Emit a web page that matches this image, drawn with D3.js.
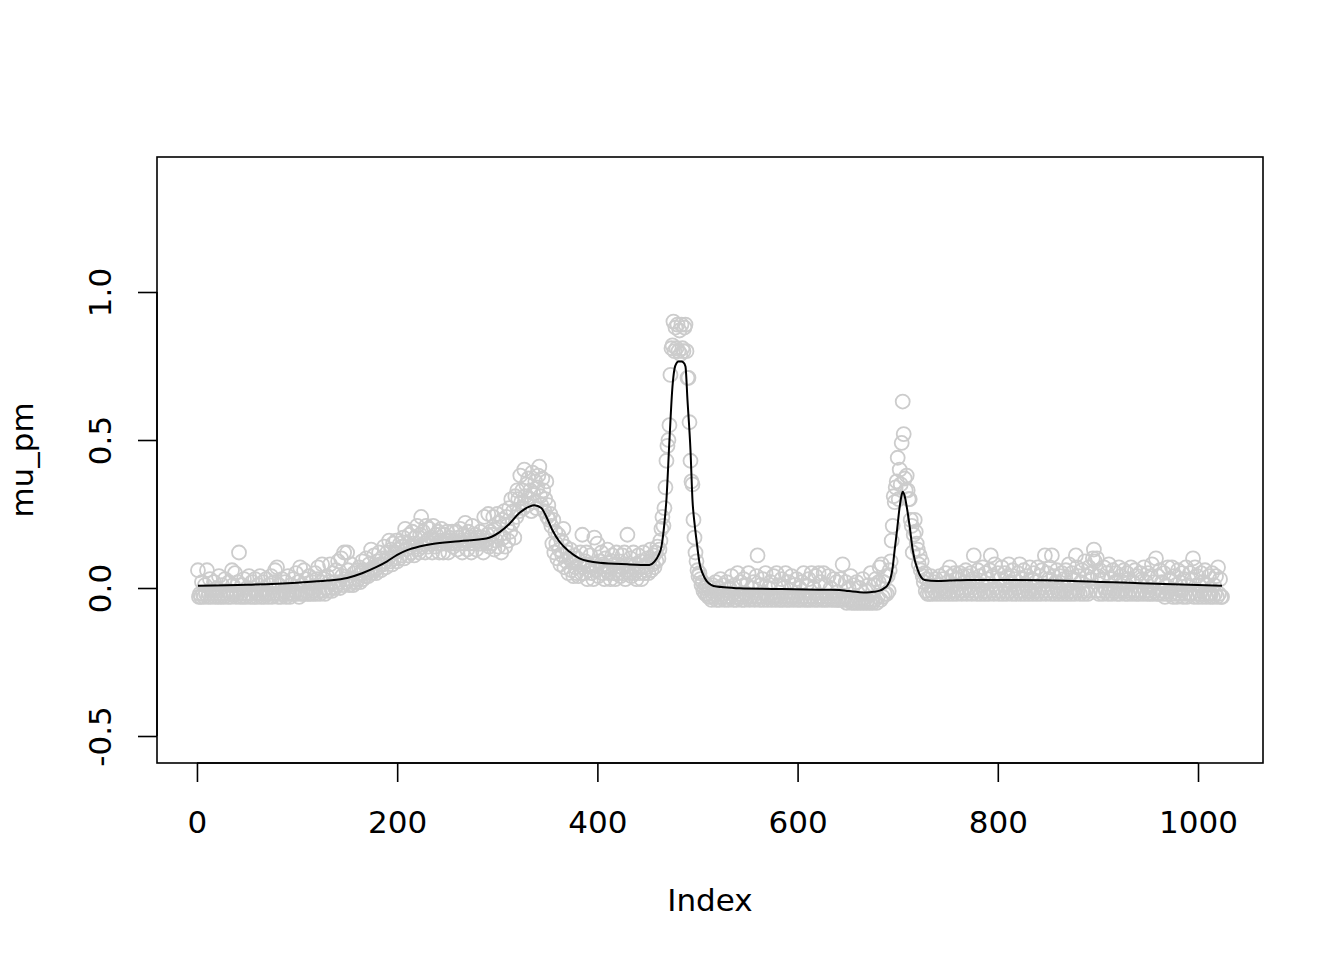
<!DOCTYPE html>
<html>
<head>
<meta charset="utf-8">
<script src="https://cdn.jsdelivr.net/npm/d3@7"></script>
<style>
  html, body { margin: 0; padding: 0; background: #ffffff; }
  svg { display: block; }
  text { font-family: "DejaVu Sans", sans-serif; fill: #000; }
</style>
</head>
<body>
<div id="chart"></div>
<script>
// ---- data ----
// observed points mu_pm, index 1..1024
const muPm = [
  .06,-.03,-.02,-.03,.02,-.02,-.03,.01,-.02,.06,-.03,-.02,.03,-.03,-.01,-.02,.02,-.03,-.02,.00,-.03,.04,-.02,-.03,.01,-.02,-.03,.03,-.02,-.01,-.03,.02,
  -.02,-.03,.06,.01,-.02,.05,-.03,-.02,.02,.12,-.03,-.02,.01,-.03,.03,-.02,-.03,.00,-.02,.04,-.03,-.02,.02,-.03,-.01,.03,-.02,-.03,.01,-.02,.04,-.03,
  -.02,.02,-.03,-.02,.03,-.02,-.03,.01,-.02,.04,-.03,-.02,.02,.06,-.02,.07,-.03,.01,-.02,-.03,.03,-.02,-.01,.02,-.03,-.02,.04,-.02,-.03,.01,-.02,.03,
  -.02,-.01,.05,-.02,.02,-.03,.07,-.02,.01,-.02,.06,-.02,.03,-.01,-.02,.04,-.02,.00,.02,-.02,-.01,.05,-.02,.03,.07,-.01,-.02,.02,.08,-.01,.03,-.02,
  .00,.04,-.01,.02,.08,.00,-.01,.05,.02,.00,.06,.01,.09,.02,.00,.10,.04,.01,.12,.03,.02,.12,.06,.01,.03,.08,.02,.01,.05,.03,.02,.06,
  .03,.07,.02,.05,.09,.03,.06,.04,.10,.05,.04,.08,.06,.13,.05,.07,.11,.06,.05,.09,.07,.12,.08,.06,.10,.08,.14,.09,.07,.12,.10,.16,
  .09,.13,.08,.15,.10,.12,.16,.09,.13,.10,.15,.11,.14,.17,.10,.20,.13,.15,.11,.18,.14,.12,.19,.15,.11,.17,.14,.21,.13,.12,.18,.24,
  .14,.19,.15,.12,.21,.16,.14,.20,.15,.17,.12,.21,.16,.14,.18,.15,.19,.12,.16,.20,.15,.12,.18,.16,.15,.19,.12,.17,.16,.15,.19,.14,
  .16,.15,.19,.13,.17,.15,.20,.16,.12,.18,.15,.22,.16,.13,.19,.15,.17,.12,.21,.16,.15,.18,.13,.17,.16,.15,.19,.15,.17,.12,.24,.16,
  .15,.18,.25,.14,.19,.15,.18,.24,.13,.20,.16,.25,.14,.22,.18,.12,.23,.17,.26,.14,.24,.21,.16,.27,.19,.30,.22,.26,.17,.31,.24,.33,
  .30,.26,.38,.29,.33,.27,.40,.31,.35,.28,.37,.30,.33,.26,.39,.32,.29,.36,.27,.34,.38,.41,.31,.28,.37,.33,.26,.30,.36,.24,.28,.23,
  .25,.21,.15,.23,.12,.19,.15,.10,.18,.13,.08,.16,.11,.20,.07,.14,.09,.12,.05,.10,.13,.06,.09,.04,.11,.07,.05,.10,.04,.08,.12,.05,
  .18,.07,.05,.09,.12,.03,.08,.06,.11,.05,.07,.03,.17,.08,.06,.15,.04,.09,.07,.12,.05,.08,.03,.10,.06,.13,.05,.07,.03,.09,.11,.05,
  .08,.03,.12,.06,.05,.09,.04,.07,.11,.05,.12,.03,.08,.18,.06,.05,.10,.04,.07,.12,.05,.08,.03,.06,.11,.05,.09,.03,.07,.12,.05,.06,
  .07,.10,.05,.09,.13,.06,.08,.11,.07,.12,.09,.14,.10,.13,.16,.20,.24,.21,.27,.34,.43,.48,.50,.55,.72,.81,.82,.90,.80,.88,.81,.89,
  .80,.87,.79,.89,.81,.80,.88,.89,.80,.71,.71,.56,.43,.36,.35,.23,.17,.12,.09,.06,.04,.05,.03,.01,.02,-.01,.00,-.02,.01,-.02,-.03,.00,
  -.03,-.04,.01,-.03,-.02,.02,-.04,-.03,.00,-.04,.03,-.03,-.02,.01,-.04,-.03,.02,-.03,-.04,.00,-.03,.04,-.02,-.04,.01,-.03,-.04,.05,-.03,-.02,.02,-.04,
  -.03,.03,-.04,-.02,.01,-.03,.05,-.04,-.03,.00,-.03,.02,-.04,-.03,.04,.11,-.03,-.04,.01,-.03,.03,-.04,-.02,.05,-.03,-.04,.00,-.03,.02,-.04,-.03,.04,
  -.03,-.04,.05,-.03,.01,-.04,-.03,.03,-.04,.00,-.03,.05,-.04,-.03,.02,-.04,-.03,.04,-.03,-.04,.01,-.03,.03,-.04,-.03,.00,-.04,.02,-.03,.05,-.04,-.03,
  .01,-.04,.03,-.03,-.04,.05,-.03,.00,-.04,.04,-.03,-.04,.05,-.03,.02,-.04,-.03,.05,-.04,.01,-.03,-.04,.04,-.03,.00,-.04,-.03,.03,-.04,-.03,.02,-.04,
  -.04,-.03,.03,-.04,.08,-.04,-.03,.02,-.05,-.04,.00,-.04,.04,-.05,-.04,.01,-.05,-.04,.02,-.05,-.04,.00,-.05,-.04,.03,-.05,-.04,-.01,-.05,-.04,.01,-.05,
  .05,-.04,-.05,.01,-.04,.03,-.05,-.03,.02,.07,-.04,.08,-.03,.02,-.02,.04,-.02,.04,-.01,.06,.09,.16,.21,.31,.29,.34,.36,.44,.30,.40,.35,.49,
  .63,.52,.37,.33,.38,.33,.30,.30,.23,.21,.12,.18,.23,.19,.15,.13,.08,.11,.06,.09,.04,.02,.05,-.01,.03,-.02,.01,-.02,.04,-.01,-.02,.02,
  -.01,.03,-.02,.01,-.01,.04,-.02,.00,.03,-.01,-.02,.05,-.01,.02,-.02,.07,-.01,.04,-.02,.01,.05,-.01,-.02,.03,.00,.05,-.01,-.02,.04,-.01,.02,.06,
  -.02,.04,.00,-.01,.05,-.02,.03,.11,-.01,.02,-.02,.06,-.01,.04,-.02,.01,.07,-.01,-.02,.05,-.01,.03,-.02,.06,.11,-.01,.04,-.02,.08,.00,-.01,.05,
  -.02,.03,-.01,.07,-.02,.01,.05,-.01,-.02,.04,.08,-.01,.02,-.02,.06,-.01,.03,-.02,.00,.05,-.01,.08,-.02,.03,-.01,.06,-.02,.01,.04,-.01,-.02,.07,
  -.01,.03,-.02,.05,-.01,.02,-.02,.07,-.01,.04,-.02,.06,.00,-.01,.11,-.02,.05,-.01,.03,.07,-.02,.11,-.01,.04,-.02,.02,.06,-.01,-.02,.04,-.01,.05,
  -.02,.03,-.01,.06,-.02,.01,.08,-.01,-.02,.05,-.01,.03,-.02,.11,.07,-.01,.04,-.02,.02,.06,-.01,-.02,.09,-.01,.04,-.02,.07,-.01,.03,.05,.10,.13,
  .09,-.01,.10,.04,-.02,.06,-.01,.03,-.02,.07,.00,-.01,.05,-.02,.08,-.01,.03,-.02,.06,-.01,.02,.05,-.02,-.01,.07,-.02,.04,-.01,.02,.06,-.02,-.01,
  .05,-.02,.03,-.01,.07,-.02,.02,-.01,.06,-.02,.04,-.01,-.02,.05,-.01,.03,-.02,.07,-.01,.02,-.02,.05,-.01,-.02,.04,.08,-.02,.02,-.01,.10,-.02,.04,
  -.02,.06,-.01,.02,-.02,.05,-.03,.01,-.02,.07,-.01,.03,-.02,.07,-.03,.04,-.02,.01,-.03,.06,-.02,.02,-.01,.05,-.03,.03,-.02,.07,-.03,.01,-.02,.05,
  -.02,.03,.10,-.03,.07,-.02,.04,-.03,.01,-.02,.05,-.03,.02,-.02,.06,-.03,.01,-.02,.04,-.03,-.02,.05,-.03,.01,-.02,.04,-.03,.07,-.02,.03,-.03,-.03
];

// smooth fitted curve (black line), sampled at these indices
const smoothIdx = [1,50,100,130,150,165,180,190,200,210,222,235,262,289,302,312,322,332,337,344,349,355,362,372,382,402,430,452,457,461,464,467,469,472,475,477,479,481,484,486,488,490,493,495,497,499,502,505,509,514,519,530,542,575,609,630,642,648,655,662,669,676,682,686,690,693,695,697,699,702,704,705,707,709,712,715,720,727,739,752,770,800,875,942,1024];
const smoothVal = [.008,.011,.018,.025,.034,.05,.072,.09,.112,.128,.14,.149,.158,.167,.188,.216,.253,.275,.28,.27,.241,.196,.157,.123,.10,.085,.08,.078,.089,.11,.14,.22,.30,.50,.68,.74,.759,.765,.765,.762,.748,.635,.466,.297,.22,.162,.084,.05,.024,.01,.005,.002,-.001,-.003,-.005,-.006,-.007,-.009,-.012,-.014,-.015,-.013,-.009,-.002,.01,.035,.07,.13,.185,.275,.315,.325,.31,.275,.207,.128,.061,.027,.024,.025,.027,.027,.024,.016,.008];

const xTicks = [0, 200, 400, 600, 800, 1000];
const xTickLabels = ["0", "200", "400", "600", "800", "1000"];
const yTicks = [-0.5, 0, 0.5, 1.0];
const yTickLabels = ["-0.5", "0.0", "0.5", "1.0"];
const xLabel = "Index";
const yLabel = "mu_pm";

// ---- layout ----
const W = 1344, H = 960;
const plot = { left: 157, right: 1263, top: 157, bottom: 763 };
const fontSize = 31;
const tickLen = 19;

const n = muPm.length;
const ext = 0.04 * (n - 1);
const x = d3.scaleLinear().domain([1 - ext, n + ext]).range([plot.left, plot.right]);
const y = d3.scaleLinear().domain([-0.5912, 1.4561]).range([plot.bottom, plot.top]);

const svg = d3.select("#chart").append("svg")
  .attr("width", W).attr("height", H)
  .attr("viewBox", `0 0 ${W} ${H}`);
svg.append("rect").attr("width", W).attr("height", H).attr("fill", "#ffffff");

// points
svg.append("g")
  .selectAll("circle")
  .data(muPm)
  .join("circle")
  .attr("cx", (d, i) => x(i + 1))
  .attr("cy", d => y(d))
  .attr("r", 7)
  .attr("fill", "none")
  .attr("stroke", "#cccccc")
  .attr("stroke-width", 1.8);

// smooth line
const lineGen = d3.line()
  .x(d => x(d[0]))
  .y(d => y(d[1]))
  .curve(d3.curveMonotoneX);
svg.append("path")
  .datum(smoothIdx.map((v, i) => [v, smoothVal[i]]))
  .attr("d", lineGen)
  .attr("fill", "none")
  .attr("stroke", "#000000")
  .attr("stroke-width", 2)
  .attr("stroke-linejoin", "round");

// box
svg.append("rect")
  .attr("x", plot.left).attr("y", plot.top)
  .attr("width", plot.right - plot.left).attr("height", plot.bottom - plot.top)
  .attr("fill", "none").attr("stroke", "#000").attr("stroke-width", 1.6);

// x axis
const gx = svg.append("g").attr("transform", `translate(0,${plot.bottom})`)
  .call(d3.axisBottom(x).tickValues(xTicks).tickSize(tickLen).tickSizeOuter(0)
    .tickFormat((d, i) => xTickLabels[i]).tickPadding(0));
gx.select(".domain").remove();
gx.selectAll(".tick line").attr("stroke", "#000").attr("stroke-width", 1.6);
gx.selectAll(".tick text")
  .attr("y", 70).attr("dy", null)
  .style("font-size", fontSize + "px").style("font-family", "DejaVu Sans, sans-serif");
gx.append("line")
  .attr("x1", x(xTicks[0])).attr("x2", x(xTicks[xTicks.length - 1]))
  .attr("y1", 0).attr("y2", 0)
  .attr("stroke", "#000").attr("stroke-width", 1.6);

// y axis
const gy = svg.append("g").attr("transform", `translate(${plot.left},0)`)
  .call(d3.axisLeft(y).tickValues(yTicks).tickSize(tickLen).tickSizeOuter(0)
    .tickFormat((d, i) => yTickLabels[i]));
gy.select(".domain").remove();
gy.selectAll(".tick line").attr("stroke", "#000").attr("stroke-width", 1.6);
gy.selectAll(".tick text")
  .attr("x", null).attr("dy", null)
  .attr("text-anchor", "middle")
  .attr("transform", "translate(-46,0) rotate(-90)")
  .style("font-size", fontSize + "px").style("font-family", "DejaVu Sans, sans-serif");
gy.append("line")
  .attr("x1", 0).attr("x2", 0)
  .attr("y1", y(yTicks[0])).attr("y2", y(yTicks[yTicks.length - 1]))
  .attr("stroke", "#000").attr("stroke-width", 1.6);

// axis titles
svg.append("text")
  .attr("x", (plot.left + plot.right) / 2).attr("y", 911)
  .attr("text-anchor", "middle")
  .style("font-size", fontSize + "px")
  .text(xLabel);
svg.append("text")
  .attr("transform", `translate(33,${(plot.top + plot.bottom) / 2}) rotate(-90)`)
  .attr("text-anchor", "middle")
  .style("font-size", fontSize + "px")
  .text(yLabel);
</script>
</body>
</html>
